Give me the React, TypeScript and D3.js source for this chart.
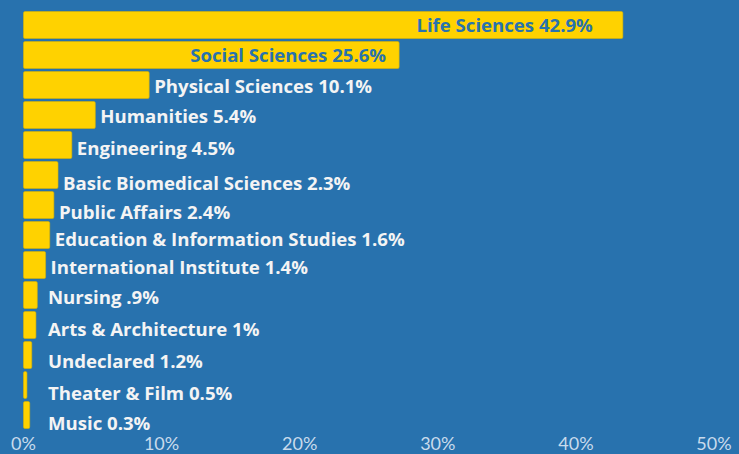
import React from "react"
import * as d3 from "d3"

// schools, the percentage printed on each row, and the bar length
const schools = [
  "Life Sciences", "Social Sciences", "Physical Sciences", "Humanities", "Engineering",
  "Basic Biomedical Sciences", "Public Affairs", "Education & Information Studies",
  "International Institute", "Nursing", "Arts & Architecture", "Undeclared",
  "Theater & Film", "Music",
]
const shownPct = ["42.9%", "25.6%", "10.1%", "5.4%", "4.5%", "2.3%", "2.4%", "1.6%", "1.4%", ".9%", "1%", "1.2%", "0.5%", "0.3%"]
const barPct = [43.4, 27.2, 9.1, 5.2, 3.5, 2.5, 2.2, 1.9, 1.6, 1.0, 0.9, 0.6, 0.25, 0.45]
const tickValues = [0, 10, 20, 30, 40, 50]

// layout: the labels in the original sit a bit off the bar centres
const labelNudge = [0, 0, 1, 1.5, 3.5, 8.5, 7.5, 4.5, 2.5, 2, 4.5, 6, 8.5, 8]

const W = 739
const H = 454
const BG = "#2872ae"
const GOLD = "#ffd200"

const App: React.FC = () => {
  const x = d3.scaleLinear().domain([0, 50]).range([23.5, 714])
  const y = d3.scaleBand<string>().domain(schools).range([10, 430]).paddingInner(0.1).paddingOuter(0.05)

  return (
    <svg width={W} height={H} style={{ position: "absolute", left: 0, top: 0 }}>
      <rect width={W} height={H} fill={BG} />
      {schools.map((s, i) => {
        const y0 = y(s) as number
        const bh = y.bandwidth()
        const xe = x(barPct[i])
        const inside = i < 2
        const label = `${s} ${shownPct[i]}`
        return (
          <g key={s}>
            <rect x={x(0)} y={y0} width={xe - x(0)} height={bh} rx={1.5}
              fill={GOLD} stroke="#d9b400" strokeWidth={0.6} />
            <text
              x={inside ? xe - (i === 0 ? 30 : 13) : Math.max(xe + 5, 48)}
              y={y0 + bh / 2 + labelNudge[i]}
              dy="0.36em"
              textAnchor={inside ? "end" : "start"}
              fontFamily="'Open Sans', sans-serif"
              fontWeight={700}
              fontSize={18.6}
              fill={inside ? BG : "#f4f4f4"}
            >{label}</text>
          </g>
        )
      })}
      {tickValues.map(t => (
        <text key={t} x={x(t)} y={450} textAnchor="middle"
          fontFamily="Lato, sans-serif" fontSize={18} fill="#c9dbec">{t}%</text>
      ))}
    </svg>
  )
}

export default App
